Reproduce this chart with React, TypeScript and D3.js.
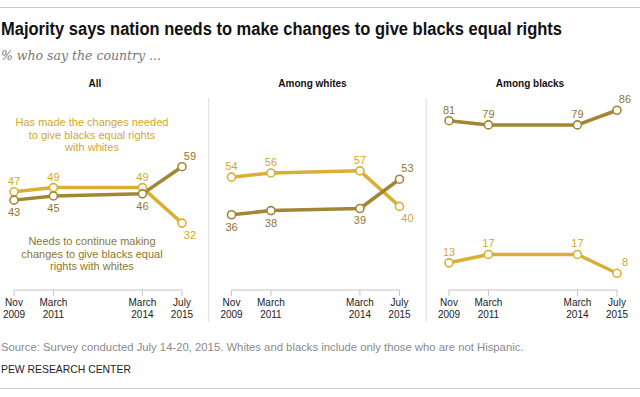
import React from "react";
import * as d3 from "d3";

// Pew-style small multiples: two series over four surveys, three groups
const panels = ["All", "Among whites", "Among blacks"];
const surveyDates = ["2009-11-01", "2011-03-01", "2014-03-01", "2015-07-01"];
const tickMonth = ["Nov", "March", "March", "July"];
const tickYear = ["2009", "2011", "2014", "2015"];

// "Has made the changes needed ..."
const madeChanges = [
  [47, 49, 49, 32],
  [54, 56, 57, 40],
  [13, 17, 17, 8],
];
// "Needs to continue making changes ..."
const needsChanges = [
  [43, 45, 46, 59],
  [36, 38, 39, 53],
  [81, 79, 79, 86],
];

const madeNote = ["Has made the changes needed", "to give blacks equal rights", "with whites"];
const needsNote = ["Needs to continue making", "changes to give blacks equal", "rights with whites"];

const LIGHT = "#D9AF36";
const DARK = "#A28633";
const LIGHT_TXT = "#D3A72B";
const DARK_TXT = "#8E7633";
const SANS = "'Liberation Sans', Arial, sans-serif";

export default function App() {
  const width = 640;
  const height = 397;

  const dates = surveyDates.map((d) => new Date(d));
  const panelX = d3.scaleBand<string>().domain(panels).range([14, 617]).paddingInner(0.2276);
  const x = d3.scaleTime().domain(d3.extent(dates) as [Date, Date]).range([0, panelX.bandwidth()]);
  const y = d3.scaleLinear().domain([0, 100]).range([290, 81]);
  const gapHalf = (panelX.step() * panelX.paddingInner()) / 2;

  const line = d3
    .line<number>()
    .x((_, i) => x(dates[i]))
    .y((v) => y(v));

  // label goes below the point only when it is the lower of two close values
  const labelPos = (v: number, other: number, i: number) => {
    const last = i === dates.length - 1;
    const below = v < other && other - v < 40;
    return {
      dx: last ? 8 : 0,
      dy: below ? 16 : -7,
    };
  };

  return (
    <svg width={width} height={height} style={{ position: "absolute", left: 0, top: 0, background: "#fff" }}>
      <line x1={0} x2={width} y1={7.5} y2={7.5} stroke="#c8c8c8" />
      {/* no condensed face installed, so squeeze the bold title to the original width */}
      <text
        x={1}
        y={35}
        fontFamily={SANS}
        fontWeight="bold"
        fontSize={18}
        fill="#111"
        textLength={561}
        lengthAdjust="spacingAndGlyphs"
      >
        Majority says nation needs to make changes to give blacks equal rights
      </text>
      <text x={1} y={60} fontFamily="'DejaVu Serif', serif" fontStyle="italic" fontSize={12.5} fill="#777">
        % who say the country ...
      </text>

      {panels.map((p, pi) => {
        const x0 = panelX(p) as number;
        const made = madeChanges[pi];
        const needs = needsChanges[pi];
        const series = [
          { vals: made, other: needs, color: LIGHT, txt: LIGHT_TXT },
          { vals: needs, other: made, color: DARK, txt: DARK_TXT },
        ];
        return (
          <g key={p}>
            {pi > 0 && (
              <line x1={x0 - gapHalf + 2} x2={x0 - gapHalf + 2} y1={98} y2={322} stroke="#dcdcdc" />
            )}
            <text
              x={x0 + panelX.bandwidth() / 2 - 3}
              y={87}
              textAnchor="middle"
              fontFamily={SANS}
              fontWeight="bold"
              fontSize={10}
              fill="#111"
            >
              {p}
            </text>
            <g transform={`translate(${x0},0)`}>
              {/* axis */}
              <line x1={x(dates[0])} x2={x(dates[dates.length - 1])} y1={y(0)} y2={y(0)} stroke="#c4c4c4" />
              {dates.map((d, i) => (
                <g key={i} transform={`translate(${x(d)},${y(0)})`}>
                  <line y1={0} y2={6} stroke="#c4c4c4" />
                  <text y={16} textAnchor="middle" fontFamily={SANS} fontSize={10} fill="#222">
                    {tickMonth[i]}
                  </text>
                  <text y={28} textAnchor="middle" fontFamily={SANS} fontSize={10} fill="#222">
                    {tickYear[i]}
                  </text>
                </g>
              ))}

              {series.map((s, si) => (
                <path key={si} d={line(s.vals) || ""} fill="none" stroke={s.color} strokeWidth={3.5} strokeLinejoin="round" />
              ))}
              {series.map((s, si) => (
                <g key={si}>
                  {s.vals.map((v, i) => {
                    const lp = labelPos(v, s.other[i], i);
                    return (
                      <g key={i}>
                        <circle cx={x(dates[i])} cy={y(v)} r={4} fill="#fff" stroke={s.color} strokeWidth={1.6} />
                        <text
                          x={x(dates[i]) + lp.dx}
                          y={y(v) + lp.dy}
                          textAnchor="middle"
                          fontFamily={SANS}
                          fontSize={11}
                          fill={s.txt}
                        >
                          {v}
                        </text>
                      </g>
                    );
                  })}
                </g>
              ))}
            </g>
          </g>
        );
      })}

      {madeNote.map((t, i) => (
        <text key={i} x={92} y={126 + i * 12.5} textAnchor="middle" fontFamily={SANS} fontSize={11} fill={LIGHT_TXT}>
          {t}
        </text>
      ))}
      {needsNote.map((t, i) => (
        <text key={i} x={92} y={245 + i * 12.5} textAnchor="middle" fontFamily={SANS} fontSize={11} fill={DARK_TXT}>
          {t}
        </text>
      ))}

      <text x={1} y={351} fontFamily={SANS} fontSize={11.3} fill="#8a8a8a">
        Source: Survey conducted July 14-20, 2015. Whites and blacks include only those who are not Hispanic.
      </text>
      <text x={1} y={373} fontFamily={SANS} fontSize={10.4} fill="#222">
        PEW RESEARCH CENTER
      </text>
      <line x1={0} x2={width} y1={388.5} y2={388.5} stroke="#c8c8c8" />
    </svg>
  );
}
